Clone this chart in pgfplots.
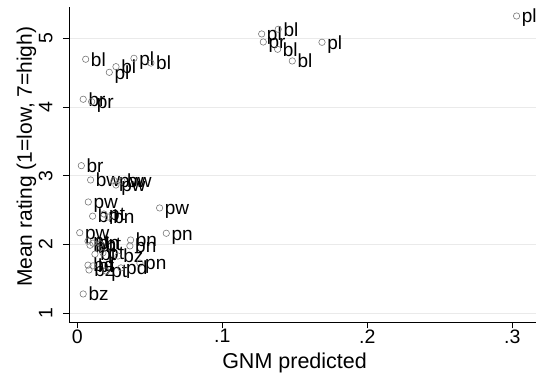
\documentclass[border=0pt]{standalone}
\usepackage{fontspec}
\setmainfont{Liberation Sans}
\usepackage{pgfplots}
\usepackage{pgfplotstable}
\pgfplotsset{compat=1.18}
\definecolor{markgray}{RGB}{120,120,120}
\definecolor{gridgray}{RGB}{234,234,234}

% GNM prediction against mean rating, one row per onset cluster
\pgfplotstableread{
x       y      lab
0.3030  5.324  pl
0.1272  5.063  pl
0.1386  5.131  bl
0.1283  4.946  pr
0.1382  4.840  bl
0.1483  4.670  bl
0.1688  4.942  pl
0.0058  4.695  bl
0.0221  4.505  pl
0.0267  4.587  bl
0.0391  4.709  pl
0.0508  4.640  bl
0.0041  4.113  br
0.0099  4.078  pr
0.0028  3.147  br
0.0092  2.939  bw
0.0253  2.931  pw
0.0308  2.924  bw
0.0267  2.866  pw
0.0076  2.619  pw
0.0568  2.532  pw
0.0106  2.413  bn
0.0184  2.444  pt
0.0212  2.400  bn
0.0017  2.172  pw
0.0614  2.164  pn
0.0074  2.050  pt
0.0088  1.990  bn
0.0108  2.020  pn
0.0157  2.010  bt
0.0368  2.066  bn
0.0363  1.980  bn
0.0122  1.860  bt
0.0177  1.880  pt
0.0281  1.833  bz
0.0432  1.730  pn
0.0074  1.700  bd
0.0081  1.630  bz
0.0108  1.690  bt
0.0198  1.615  pt
0.0301  1.660  pd
0.0041  1.281  bz
}\ratings

\begin{document}
\begin{tikzpicture}[x=1pt,y=1pt]
\path[use as bounding box] (0,0) rectangle (536,375);
\clip (0,0) rectangle (536,375);
\begin{axis}[
  at={(69pt,52.7pt)}, anchor=south west,
  scale only axis, width=467pt, height=315.3pt,
  xmin=-0.0057, xmax=0.3164, ymin=0.869, ymax=5.455,
  axis x line*=bottom, axis y line*=left,
  axis line style={black, line width=0.8pt, -},
  xtick={0,0.1,0.2,0.3}, xticklabels={0,.1,.2,.3},
  ytick={1,2,3,4,5},
  tick style={black, line width=0.8pt},
  tick align=outside, major tick length=6pt,
  ymajorgrids, grid style={gridgray, line width=0.9pt},
  /pgf/number format/assume math mode=true,
  ticklabel style={font=\fontsize{19.5}{21}\selectfont},
  xticklabel style={anchor=north, inner sep=0pt, yshift=-1pt},
  yticklabel style={xshift=-10.5pt, rotate=90, anchor=base, inner sep=0pt},
  xlabel={GNM predicted},
  ylabel={Mean rating (1=low, 7=high)},
  every axis x label/.style={at={(axis description cs:0.483,-0.1481)}, anchor=base, font=\fontsize{21.5}{23}\selectfont},
  every axis y label/.style={at={(axis description cs:-0.0795,0.525)}, rotate=90, anchor=base, font=\fontsize{21}{23}\selectfont},
  clip=false,
]
\addplot[only marks, mark=o, mark size=3.2pt, mark options={draw=markgray, line width=0.6pt},
  nodes near coords, point meta=explicit symbolic,
  every node near coord/.style={anchor=base west, xshift=5pt, yshift=-6.8pt, inner sep=0pt,
    text=black, font=\fontsize{19}{21}\selectfont}]
  table[x=x, y=y, meta=lab] {\ratings};
\end{axis}
\end{tikzpicture}
\end{document}
